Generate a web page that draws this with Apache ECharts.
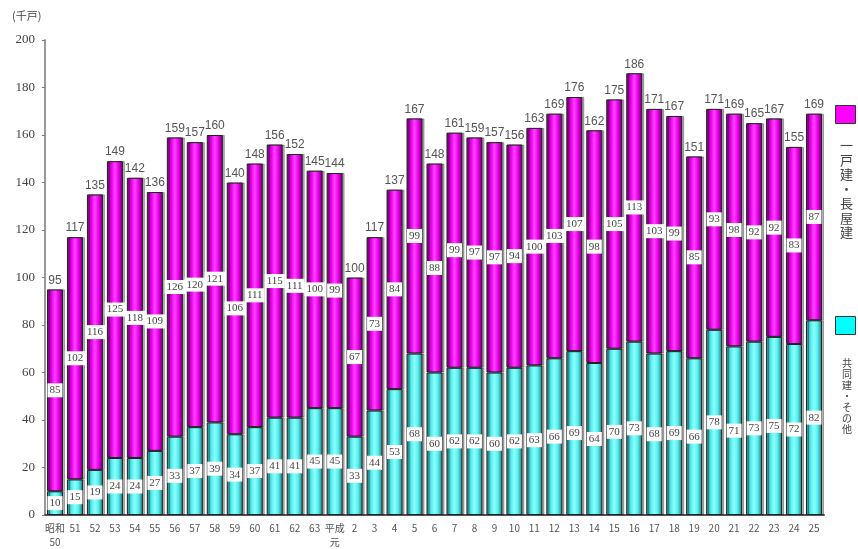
<!DOCTYPE html>
<html>
<head>
<meta charset="utf-8">
<script src="https://cdn.jsdelivr.net/npm/echarts@6/dist/echarts.min.js"></script>
<style>
html, body { margin: 0; padding: 0; background: #fff; }
#main { width: 858px; height: 549px; }
</style>
</head>
<body>
<div id="main"></div>
<script>
// 年次（昭和50年〜平成25年）
var years = ["昭和\n50", "51", "52", "53", "54", "55", "56", "57", "58", "59", "60", "61", "62", "63",
    "平成\n元", "2", "3", "4", "5", "6", "7", "8", "9", "10", "11", "12", "13", "14", "15", "16",
    "17", "18", "19", "20", "21", "22", "23", "24", "25"];
// 共同建・その他（千戸）
var kyodo = [10, 15, 19, 24, 24, 27, 33, 37, 39, 34, 37, 41, 41, 45, 45, 33, 44, 53, 68, 60,
    62, 62, 60, 62, 63, 66, 69, 64, 70, 73, 68, 69, 66, 78, 71, 73, 75, 72, 82];
// 一戸建・長屋建（千戸）
var ikko = [85, 102, 116, 125, 118, 109, 126, 120, 121, 106, 111, 115, 111, 100, 99, 67, 73, 84, 99, 88,
    99, 97, 97, 94, 100, 103, 107, 98, 105, 113, 103, 99, 85, 93, 98, 92, 92, 83, 87];
// 合計（千戸）
var totals = [95, 117, 135, 149, 142, 136, 159, 157, 160, 140, 148, 156, 152, 145, 144, 100, 117, 137, 167, 148,
    161, 159, 157, 156, 163, 169, 176, 162, 175, 186, 171, 167, 151, 171, 169, 165, 167, 155, 169];
var yTicks = [0, 20, 40, 60, 80, 100, 120, 140, 160, 180, 200];

var chart = echarts.init(document.getElementById("main"));

function grad(edge, mid, light) {
    return new echarts.graphic.LinearGradient(0, 0, 1, 0, [
        { offset: 0, color: edge },
        { offset: 0.3, color: mid },
        { offset: 0.5, color: light },
        { offset: 0.72, color: mid },
        { offset: 1, color: edge }
    ]);
}

var segLabel = {
    show: true,
    position: "inside",
    backgroundColor: "#fff",
    padding: [2, 2, 1, 2],
    color: "#444",
    fontSize: 11,
    fontFamily: "Liberation Serif"
};

var option = {
    backgroundColor: "#fff",
    animation: false,
    grid: { left: 45, right: 34, top: 40, bottom: 28 },
    legend: {
        orient: "vertical",
        right: 2,
        top: 105,
        padding: 0,
        icon: "rect",
        itemWidth: 20,
        itemHeight: 18,
        itemGap: 192,
        formatter: function () { return ""; },
        selectedMode: false,
        data: [
            { name: "一戸建・長屋建", itemStyle: { color: "#ff00ff", borderColor: "#333", borderWidth: 1 } },
            { name: "共同建・その他", itemStyle: { color: "#00ffff", borderColor: "#333", borderWidth: 1 } }
        ]
    },
    graphic: [
        { type: "text", left: 12, top: 10,
          style: { text: "(千戸)", fill: "#444", fontSize: 11, fontFamily: "Noto Sans CJK JP" } },
        { type: "text", left: 840, top: 138,
          style: { text: "一戸建・長屋建".split("").join("\n"), fill: "#444", fontSize: 13, lineHeight: 14.5,
                   fontFamily: "Noto Sans CJK JP" } },
        { type: "text", left: 842, top: 358,
          style: { text: "共同建・その他".split("").join("\n"), fill: "#444", fontSize: 10, lineHeight: 11,
                   fontFamily: "Noto Sans CJK JP" } }
    ],
    xAxis: {
        type: "category",
        data: years,
        axisLine: { lineStyle: { color: "#555", width: 2 } },
        axisTick: { show: false },
        axisLabel: {
            interval: 0, color: "#555", fontSize: 10, margin: 6, lineHeight: 14,
            fontFamily: "Noto Sans CJK JP"
        }
    },
    yAxis: {
        type: "value",
        min: 0,
        max: 200,
        interval: 20,
        splitLine: { show: false },
        axisLine: { show: true, lineStyle: { color: "#999", width: 2 } },
        axisTick: { show: true, length: 3, lineStyle: { color: "#777" } },
        axisLabel: {
            color: "#444", fontSize: 13, margin: 10, fontFamily: "Liberation Serif",
            formatter: function (v) { return yTicks.indexOf(v) >= 0 ? v : ""; }
        }
    },
    series: [
        {
            name: "共同建・その他",
            type: "bar",
            stack: "all",
            barWidth: 16,
            data: kyodo,
            itemStyle: {
                color: grad("#1f7a7a", "#55eeee", "#8cffff"),
                borderColor: "#222",
                borderWidth: 1,
                shadowColor: "rgba(0,0,0,0.3)",
                shadowOffsetX: 2
            },
            label: segLabel
        },
        {
            name: "一戸建・長屋建",
            type: "bar",
            stack: "all",
            barWidth: 16,
            data: ikko,
            itemStyle: {
                color: grad("#660066", "#ee00ee", "#ff44ff"),
                borderColor: "#222",
                borderWidth: 1,
                shadowColor: "rgba(0,0,0,0.3)",
                shadowOffsetX: 2
            },
            label: segLabel
        },
        {
            name: "合計",
            type: "bar",
            stack: "all",
            barWidth: 16,
            data: totals.map(function () { return 0; }),
            itemStyle: { color: "transparent" },
            label: {
                show: true,
                position: "top",
                distance: 3,
                color: "#555",
                fontSize: 12,
                fontFamily: "Liberation Sans",
                formatter: function (p) { return totals[p.dataIndex]; }
            }
        }
    ]
};

chart.setOption(option);
</script>
</body>
</html>
